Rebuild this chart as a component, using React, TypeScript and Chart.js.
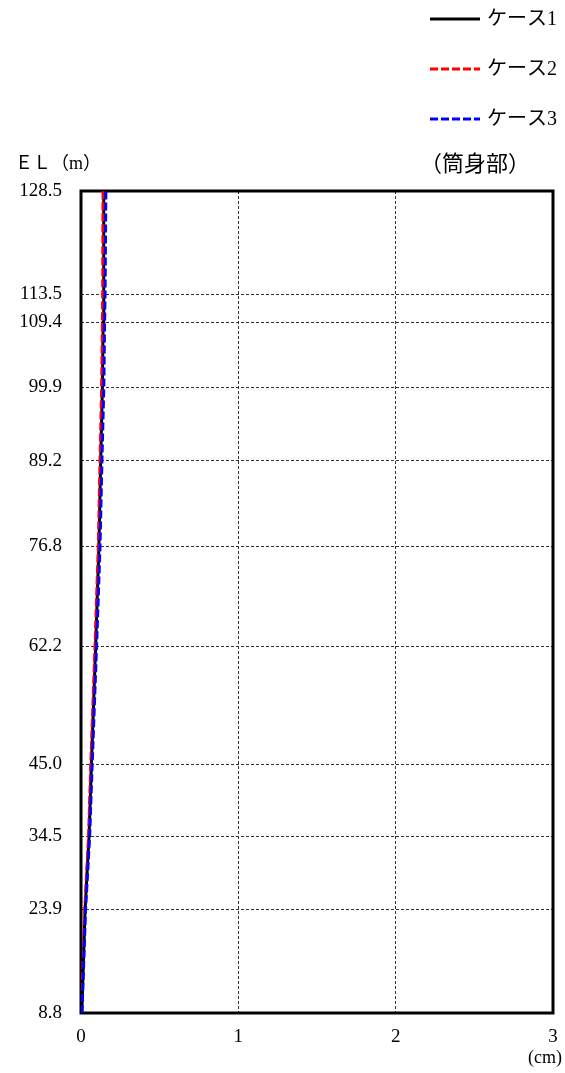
import React, { useEffect, useRef } from "react";
import { Chart, registerables } from "chart.js";

Chart.register(...registerables);

const elevations = [8.8, 23.9, 34.5, 45.0, 62.2, 76.8, 89.2, 99.9, 109.4, 113.5, 128.5];
const case1 = [0.005, 0.026, 0.051, 0.066, 0.093, 0.114, 0.125, 0.136, 0.141, 0.143, 0.146];
const case2 = [0.003, 0.024, 0.048, 0.062, 0.089, 0.11, 0.121, 0.131, 0.136, 0.138, 0.14];
const case3 = [0.006, 0.029, 0.055, 0.071, 0.099, 0.121, 0.133, 0.145, 0.15, 0.153, 0.158];
const xTicks = [0, 1, 2, 3];
const seriesNames = ["ケース1", "ケース2", "ケース3"];
const seriesColors = ["#000000", "#ff0000", "#0000ff"];
const seriesDashes = [[], [8, 3], [8, 3]];
const yAxisTitle = "ＥＬ（m）";
const sectionTitle = "（筒身部）";
const xUnit = "(cm)";

const FONT = '"Liberation Serif", "Noto Sans CJK JP", serif';

const toPoints = (vals: number[]) => vals.map((v, i) => ({ x: v, y: elevations[i] }));

const framePlugin = {
  id: "frame",
  beforeDatasetsDraw(chart: any) {
    const { ctx, chartArea } = chart;
    ctx.save();
    ctx.strokeStyle = "#000";
    ctx.lineWidth = 3;
    ctx.setLineDash([]);
    ctx.strokeRect(chartArea.left, chartArea.top, chartArea.right - chartArea.left, chartArea.bottom - chartArea.top);
    ctx.restore();
  },
  afterDraw(chart: any) {
    const { ctx, chartArea } = chart;
    ctx.save();
    // legend
    const lx0 = 430;
    const lx1 = 480;
    const ys = [19, 69, 119];
    seriesNames.forEach((name, i) => {
      ctx.beginPath();
      ctx.strokeStyle = seriesColors[i];
      ctx.lineWidth = 3;
      ctx.setLineDash(seriesDashes[i]);
      ctx.moveTo(lx0, ys[i]);
      ctx.lineTo(lx1, ys[i]);
      ctx.stroke();
      ctx.setLineDash([]);
      ctx.fillStyle = "#000";
      ctx.font = `20px ${FONT}`;
      ctx.textAlign = "left";
      ctx.textBaseline = "middle";
      ctx.fillText(name, 487, ys[i] + 1);
    });
    // titles
    ctx.fillStyle = "#000";
    ctx.font = `18px ${FONT}`;
    ctx.textAlign = "left";
    ctx.textBaseline = "middle";
    ctx.fillText(yAxisTitle, 15, 164);
    ctx.font = `22px ${FONT}`;
    ctx.fillText(sectionTitle, 420, 165);
    ctx.font = `18px ${FONT}`;
    ctx.textAlign = "right";
    ctx.fillText(xUnit, 562, chartArea.bottom + 45);
    ctx.restore();
  },
};

export default function App() {
  const ref = useRef<HTMLCanvasElement | null>(null);

  useEffect(() => {
    if (!ref.current) return;
    const datasets = [case1, case2, case3].map((vals, i) => ({
      label: seriesNames[i],
      data: toPoints(vals),
      borderColor: seriesColors[i],
      backgroundColor: seriesColors[i],
      borderWidth: 3,
      borderDash: seriesDashes[i],
      pointRadius: 0,
      showLine: true,
      fill: false,
      tension: 0,
      order: 3 - i,
    }));
    const chart = new Chart(ref.current, {
      type: "scatter",
      data: { datasets },
      options: {
        animation: false,
        responsive: false,
        devicePixelRatio: 1,
        layout: { padding: { top: 191, right: 12, left: 0, bottom: 0 } },
        plugins: { legend: { display: false }, tooltip: { enabled: false } },
        scales: {
          x: {
            type: "linear",
            min: 0,
            max: 3,
            afterBuildTicks: (scale: any) => {
              scale.ticks = xTicks.map((v) => ({ value: v }));
            },
            afterFit: (scale: any) => {
              scale.height = 60;
              scale.paddingLeft = 0;
              scale.paddingRight = 0;
            },
            grid: { color: "#333", lineWidth: 1, drawTicks: false },
            border: { display: false, dash: [3, 2] },
            ticks: {
              color: "#000",
              font: { family: FONT, size: 19 },
              padding: 13,
              maxRotation: 0,
              callback: (v: any) => String(v),
            },
          },
          y: {
            type: "linear",
            min: 8.8,
            max: 128.5,
            afterBuildTicks: (scale: any) => {
              scale.ticks = elevations.map((v) => ({ value: v }));
            },
            afterFit: (scale: any) => {
              scale.width = 81;
              scale.paddingTop = 0;
              scale.paddingBottom = 0;
            },
            grid: { color: "#333", lineWidth: 1, drawTicks: false },
            border: { display: false, dash: [3, 2] },
            ticks: {
              color: "#000",
              font: { family: FONT, size: 19 },
              padding: 19,
              autoSkip: false,
              callback: (v: any) => Number(v).toFixed(1),
            },
          },
        },
      },
      plugins: [framePlugin],
    } as any);
    return () => chart.destroy();
  }, []);

  return (
    <div style={{ position: "fixed", left: 0, top: 0, width: 565, height: 1073, background: "#fff" }}>
      <canvas ref={ref} width={565} height={1073} style={{ display: "block", width: 565, height: 1073 }} />
    </div>
  );
}
